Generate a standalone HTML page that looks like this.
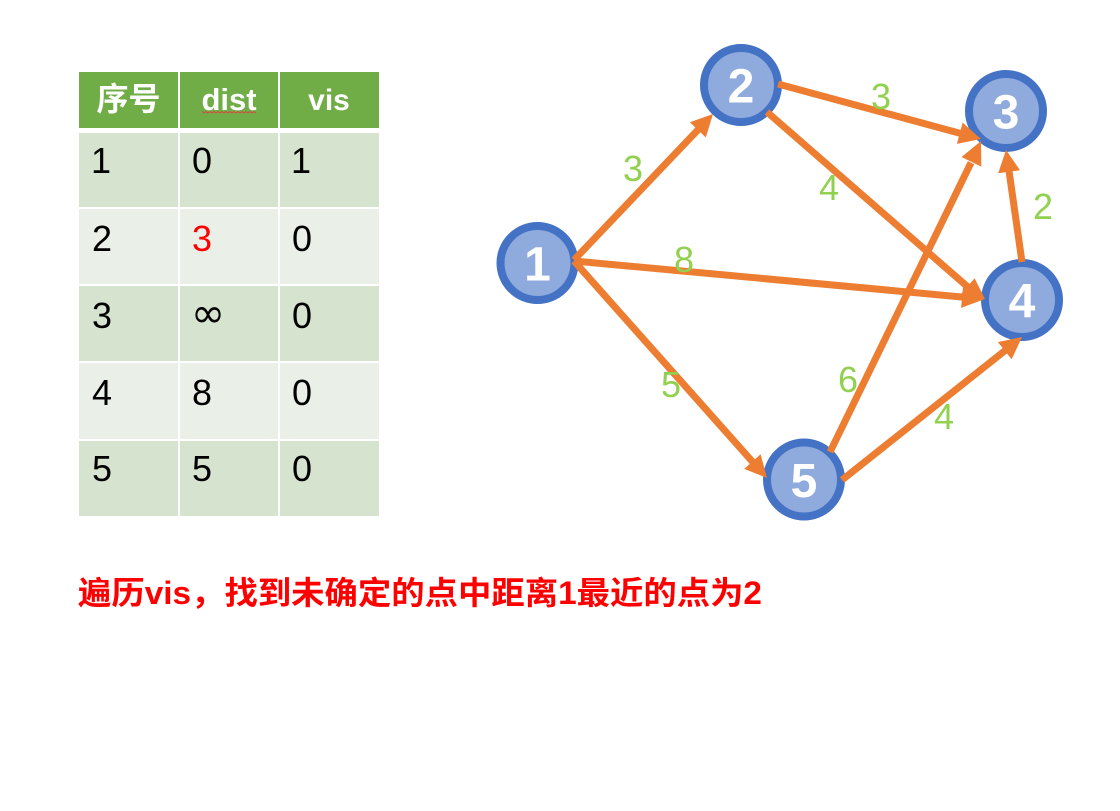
<!DOCTYPE html>
<html>
<head>
<meta charset="utf-8">
<style>
html,body{margin:0;padding:0;background:#fff;}
svg{display:block;}
</style>
</head>
<body>
<svg width="1120" height="811" viewBox="0 0 1120 811" xmlns="http://www.w3.org/2000/svg">
<rect x="0" y="0" width="1120" height="811" fill="#ffffff"/>

<!-- Table -->
<g>
  <rect x="79" y="72" width="99" height="56" fill="#70AD47"/>
  <rect x="180" y="72" width="98" height="56" fill="#70AD47"/>
  <rect x="280" y="72" width="99" height="56" fill="#70AD47"/>

  <g fill="#D6E3CF">
    <rect x="79" y="133" width="99" height="74"/>
    <rect x="180" y="133" width="98" height="74"/>
    <rect x="280" y="133" width="99" height="74"/>
    <rect x="79" y="286" width="99" height="75"/>
    <rect x="180" y="286" width="98" height="75"/>
    <rect x="280" y="286" width="99" height="75"/>
    <rect x="79" y="441" width="99" height="75"/>
    <rect x="180" y="441" width="98" height="75"/>
    <rect x="280" y="441" width="99" height="75"/>
  </g>
  <g fill="#EAEFE8">
    <rect x="79" y="209" width="99" height="75"/>
    <rect x="180" y="209" width="98" height="75"/>
    <rect x="280" y="209" width="99" height="75"/>
    <rect x="79" y="363" width="99" height="76"/>
    <rect x="180" y="363" width="98" height="76"/>
    <rect x="280" y="363" width="99" height="76"/>
  </g>

  <text x="128.5" y="110" text-anchor="middle" fill="#ffffff" font-weight="bold" font-size="32" font-family="'Liberation Sans','Noto Sans CJK SC',sans-serif">序号</text>
  <text x="229" y="110" text-anchor="middle" fill="#ffffff" font-weight="bold" font-size="31" font-family="'Liberation Sans',sans-serif">dist</text>
  <polyline points="202,111.5 204,113 206,111.5 208,113 210,111.5 212,113 214,111.5 216,113 218,111.5 220,113 222,111.5 224,113 226,111.5 228,113 230,111.5 232,113 234,111.5 236,113 238,111.5 240,113 242,111.5 244,113 246,111.5 248,113 250,111.5 252,113 254,111.5 256,113" fill="none" stroke="#E04040" stroke-width="0.8"/>
  <text x="329" y="110" text-anchor="middle" fill="#ffffff" font-weight="bold" font-size="30" font-family="'Liberation Sans',sans-serif">vis</text>

  <g font-size="36" font-family="'Liberation Sans','DejaVu Sans',sans-serif" fill="#000000">
    <text x="91" y="173">1</text>
    <text x="192" y="173">0</text>
    <text x="291" y="173">1</text>

    <text x="92" y="251">2</text>
    <text x="192" y="251" fill="#FF0000">3</text>
    <text x="292" y="251">0</text>

    <text x="92" y="328">3</text>
    <text x="191" y="327" font-size="41" font-family="'DejaVu Sans',sans-serif">∞</text>
    <text x="292" y="328">0</text>

    <text x="92" y="405">4</text>
    <text x="192" y="405">8</text>
    <text x="292" y="405">0</text>

    <text x="92" y="481">5</text>
    <text x="192" y="481">5</text>
    <text x="292" y="481">0</text>
  </g>
</g>

<!-- Nodes -->
<g stroke="#4472C4" stroke-width="8" fill="#8FAADC">
  <circle cx="537.5" cy="263" r="37"/>
  <circle cx="741" cy="85" r="37"/>
  <circle cx="1006" cy="111" r="37"/>
  <circle cx="1022" cy="300" r="37"/>
  <circle cx="804" cy="479.5" r="37"/>
</g>
<g fill="#ffffff" font-size="48" font-weight="bold" font-family="'Liberation Sans',sans-serif" text-anchor="middle">
  <text x="537.5" y="280.5">1</text>
  <text x="741" y="102.5">2</text>
  <text x="1006" y="128.5">3</text>
  <text x="1022" y="317.5">4</text>
  <text x="804" y="497">5</text>
</g>

<!-- Edges -->
<g stroke="#ED7D31" stroke-width="7" fill="none" stroke-linecap="butt">
  <line x1="574" y1="260" x2="699" y2="128.7"/>
  <line x1="574" y1="261" x2="963" y2="297.1"/>
  <line x1="574" y1="261" x2="753.1" y2="462.4"/>
  <line x1="778" y1="84" x2="960.8" y2="133.5"/>
  <line x1="767" y1="112" x2="968.2" y2="287.3"/>
  <line x1="830" y1="452" x2="971" y2="162.7"/>
  <line x1="1022" y1="262" x2="1009" y2="170.8"/>
  <line x1="842" y1="480" x2="1005.6" y2="350.1"/>
</g>
<g fill="#ED7D31">
  <polygon points="713,114 705.8,137.5 689.9,122.3"/>
  <polygon points="985,299 961.1,307.9 963.1,286.0"/>
  <polygon points="767,478 744.2,468.9 760.6,454.3"/>
  <polygon points="981,139 956.9,143.9 962.6,122.6"/>
  <polygon points="985,299 960.2,294.9 974.6,278.3"/>
  <polygon points="981,141 981.3,166.6 961.5,157.0"/>
  <polygon points="1006,150 1020,170.2 998.2,173.3"/>
  <polygon points="1022,337 1011.6,359.3 997.9,342.1"/>
</g>

<!-- Edge labels -->
<g fill="#92D050" font-size="36" font-family="'Liberation Sans',sans-serif" text-anchor="middle">
  <text x="633" y="181">3</text>
  <text x="881" y="109">3</text>
  <text x="829" y="200">4</text>
  <text x="684" y="272">8</text>
  <text x="1043" y="219">2</text>
  <text x="671" y="397">5</text>
  <text x="848" y="392">6</text>
  <text x="944" y="429">4</text>
</g>

<!-- Caption -->
<text x="78" y="604" fill="#FF0000" font-size="32" font-weight="bold" font-family="'Liberation Sans','Noto Sans CJK SC',sans-serif" textLength="684" lengthAdjust="spacingAndGlyphs">遍历vis，找到未确定的点中距离1最近的点为2</text>
</svg>
</body>
</html>
